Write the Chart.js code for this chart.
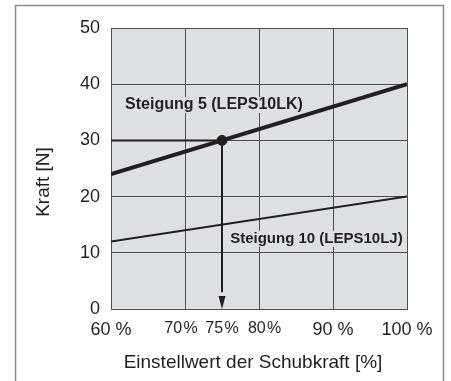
<!DOCTYPE html>
<html>
<head>
<meta charset="utf-8">
<script src="https://cdn.jsdelivr.net/npm/chart.js@4.4.1/dist/chart.umd.min.js"></script>
<style>
  html, body { margin: 0; padding: 0; background: #fff; }
  #wrap { width: 451px; height: 381px; }
</style>
</head>
<body>
<div id="wrap"><canvas id="myChart" width="451" height="381"></canvas></div>
<script>
// data
var xRange = [60, 100];          // Einstellwert der Schubkraft [%]
var steigung5 = [24, 40];        // Kraft [N] at 60 % and 100 %
var steigung10 = [12, 20];
var setPoint = [75, 30];         // example reading: 75 % -> 30 N
var xTicks = [60, 70, 75, 80, 90, 100];
var xTickLabels = ['60 %', '70\u200A%\u2002', '75\u200A%', '\u2002\u200980\u200A%', '90 %', '100 %'];
var yTicks = [0, 10, 20, 30, 40, 50];
var label5 = "Steigung 5 (LEPS10LK)";
var label10 = "Steigung 10 (LEPS10LJ)";

var ink = '#231f20';
var plotFill = '#dfe0e2';
var gridCol = '#4d4d4f';
var fam = '"Liberation Sans", Arial, sans-serif';

function pts(ys) {
	return [{x: xRange[0], y: ys[0]}, {x: xRange[1], y: ys[1]}];
}
function isTight(v) {
	return v === 70 || v === 75 || v === 80;
}

// frame, plot background, texts, arrow head
var decor = {
	id: 'decor',
	beforeDraw: function(chart) {
		var c = chart.ctx, a = chart.chartArea;
		c.save();
		c.strokeStyle = '#8c8c8c';
		c.lineWidth = 1.5;
		c.strokeRect(15.5, 5.5, 428, 420);
		c.fillStyle = plotFill;
		c.fillRect(a.left, a.top, a.right - a.left, a.bottom - a.top);
		c.restore();
	},
	afterDatasetsDraw: function(chart) {
		var c = chart.ctx, xs = chart.scales.x, ys = chart.scales.y;
		c.save();
		// arrow head at the bottom of the vertical guide
		var ax = xs.getPixelForValue(setPoint[0]);
		var ay = ys.getPixelForValue(0);
		c.fillStyle = ink;
		c.beginPath();
		c.moveTo(ax, ay);
		c.lineTo(ax - 3.5, ay - 13);
		c.lineTo(ax + 3.5, ay - 13);
		c.closePath();
		c.fill();

		c.textBaseline = 'middle';
		function tag(txt, xv, yv, size) {
			c.font = 'bold ' + size + 'px ' + fam;
			var px = xs.getPixelForValue(xv), py = ys.getPixelForValue(yv);
			var w = c.measureText(txt).width;
			c.fillStyle = plotFill;
			c.fillRect(px - 2, py - 8, w + 4, 16);
			c.fillStyle = ink;
			c.fillText(txt, px, py);
		}
		tag(label5, 61.9, 36.3, 16);
		tag(label10, 76.1, 12.5, 15);

		// axis titles
		c.font = '19px ' + fam;
		c.textAlign = 'center';
		c.fillText('Einstellwert der Schubkraft [%]', 253, 363);
		c.translate(44, 182);
		c.rotate(-Math.PI / 2);
		c.fillText('Kraft [N]', 0, 0);
		c.restore();
	}
};

var ctx = document.getElementById('myChart').getContext('2d');
var chart = new Chart(ctx, {
	type: 'line',
	data: {
		datasets: [{
			data: pts(steigung5),
			borderColor: ink,
			borderWidth: 4,
			pointRadius: 0
		}, {
			data: pts(steigung10),
			borderColor: ink,
			borderWidth: 2,
			pointRadius: 0
		}, {
			// horizontal guide to the set point
			data: [{x: xRange[0], y: setPoint[1]}, {x: setPoint[0], y: setPoint[1]}],
			borderColor: ink,
			borderWidth: 2,
			pointRadius: 0
		}, {
			// vertical guide down to the axis
			data: [{x: setPoint[0], y: setPoint[1]}, {x: setPoint[0], y: 3}],
			borderColor: ink,
			borderWidth: 2,
			pointRadius: 0
		}, {
			data: [{x: setPoint[0], y: setPoint[1]}],
			borderColor: ink,
			backgroundColor: ink,
			pointRadius: 5,
			showLine: false
		}]
	},
	options: {
		responsive: false,
		animation: false,
		layout: { padding: { top: 28, right: 44, left: 0, bottom: 0 } },
		plugins: { legend: { display: false }, tooltip: { enabled: false } },
		scales: {
			x: {
				type: 'linear',
				min: xRange[0],
				max: xRange[1],
				afterFit: function(s) { s.height = 72; },
				afterBuildTicks: function(s) {
					s.ticks = xTicks.map(function(v) { return {value: v}; });
				},
				grid: {
					color: function(g) { return g.tick && g.tick.value === 75 ? 'rgba(0,0,0,0)' : gridCol; },
					lineWidth: 1,
					drawTicks: false
				},
				border: { color: gridCol, width: 1 },
				ticks: {
					color: ink,
					padding: 10,
					maxRotation: 0,
					autoSkip: false,
					font: function(g) {
						return { family: fam, size: g.tick && isTight(g.tick.value) ? 16 : 18 };
					},
					callback: function(v) { return xTickLabels[xTicks.indexOf(v)]; }
				}
			},
			y: {
				min: 0,
				max: 50,
				afterFit: function(s) { s.width = 111; },
				afterBuildTicks: function(s) {
					s.ticks = yTicks.map(function(v) { return {value: v}; });
				},
				grid: { color: gridCol, lineWidth: 1, drawTicks: false },
				border: { color: gridCol, width: 1 },
				ticks: {
					color: ink,
					padding: 11,
					font: { family: fam, size: 18 }
				}
			}
		}
	},
	plugins: [decor]
});
</script>
</body>
</html>
